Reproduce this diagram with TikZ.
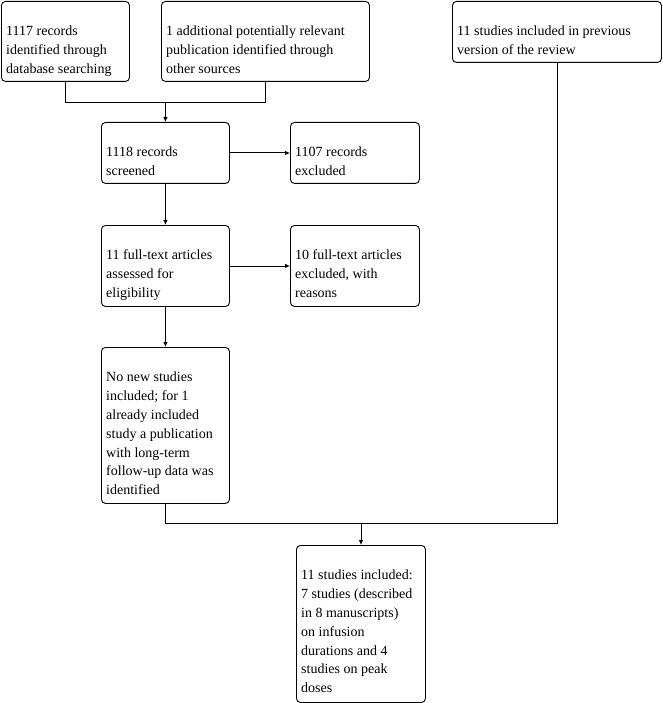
\documentclass[tikz,border=0pt]{standalone}
\usepackage{fontspec}
\setmainfont{Liberation Serif}
\usetikzlibrary{arrows.meta,calc}
\tikzset{
  box/.style={draw, line width=0.9pt, rounded corners=4pt, anchor=north west, inner sep=0pt},
  txt/.style={anchor=north west, inner sep=0pt, align=left, font=\fontsize{14}{18.9}\selectfont},
  link/.style={line width=0.9pt},
  arr/.style={line width=0.9pt, -{Latex[length=5pt,width=4.5pt]}}
}
\begin{document}
\begin{tikzpicture}[x=1pt,y=1pt]
\useasboundingbox (0,0) rectangle (662,-703);
\node[box, minimum width=128pt, minimum height=80pt] (A) at (1,-1) {};
\node[box, minimum width=208pt, minimum height=80pt] (B) at (161,-1) {};
\node[box, minimum width=209pt, minimum height=61pt] (C) at (452,-1) {};
\node[box, minimum width=128pt, minimum height=61pt] (D) at (101,-122) {};
\node[box, minimum width=129pt, minimum height=61pt] (E) at (290,-122) {};
\node[box, minimum width=128pt, minimum height=81pt] (F) at (101,-225) {};
\node[box, minimum width=129pt, minimum height=81pt] (G) at (290,-225) {};
\node[box, minimum width=128pt, minimum height=156pt] (H) at (101,-347) {};
\node[box, minimum width=129pt, minimum height=157pt] (I) at (296,-545) {};

\node[txt] (tA) at ($(A.north west)+(5,-24.5)$) {1117 records\\identified through\\database searching};
\node[txt] (tB) at ($(B.north west)+(5,-24.5)$) {1 additional potentially relevant\\publication identified through\\other sources};
\node[txt] (tC) at ($(C.north west)+(5,-24.5)$) {11 studies included in previous\\version of the review};
\node[txt] (tD) at ($(D.north west)+(5,-24.5)$) {1118 records\\screened};
\node[txt] (tE) at ($(E.north west)+(5,-24.5)$) {1107 records\\excluded};
\node[txt] (tF) at ($(F.north west)+(5,-24.5)$) {11 full-text articles\\assessed for\\eligibility};
\node[txt] (tG) at ($(G.north west)+(5,-24.5)$) {10 full-text articles\\excluded, with\\reasons};
\node[txt] (tH) at ($(H.north west)+(5,-24.5)$) {No new studies\\included; for 1\\already included\\study a publication\\with long-term\\follow-up data was\\identified};
\node[txt] (tI) at ($(I.north west)+(5,-24.5)$) {11 studies included:\\7 studies (described\\in 8 manuscripts)\\on infusion\\durations and 4\\studies on peak\\doses};

\coordinate (j1) at (D.north |- 0,-102);
\coordinate (j2) at (I.north |- 0,-523);
\draw[link] (A.south) |- (j1);
\draw[link] (B.south) |- (j1);
\draw[arr] (j1) -- (D.north);
\draw[arr] (D.east) -- (E.west);
\draw[arr] (D.south) -- (F.north);
\draw[arr] (F.east) -- (G.west);
\draw[arr] (F.south) -- (H.north);
\draw[link] (H.south) |- (j2);
\draw[link] (C.south) |- (j2);
\draw[arr] (j2) -- (I.north);
\end{tikzpicture}
\end{document}
